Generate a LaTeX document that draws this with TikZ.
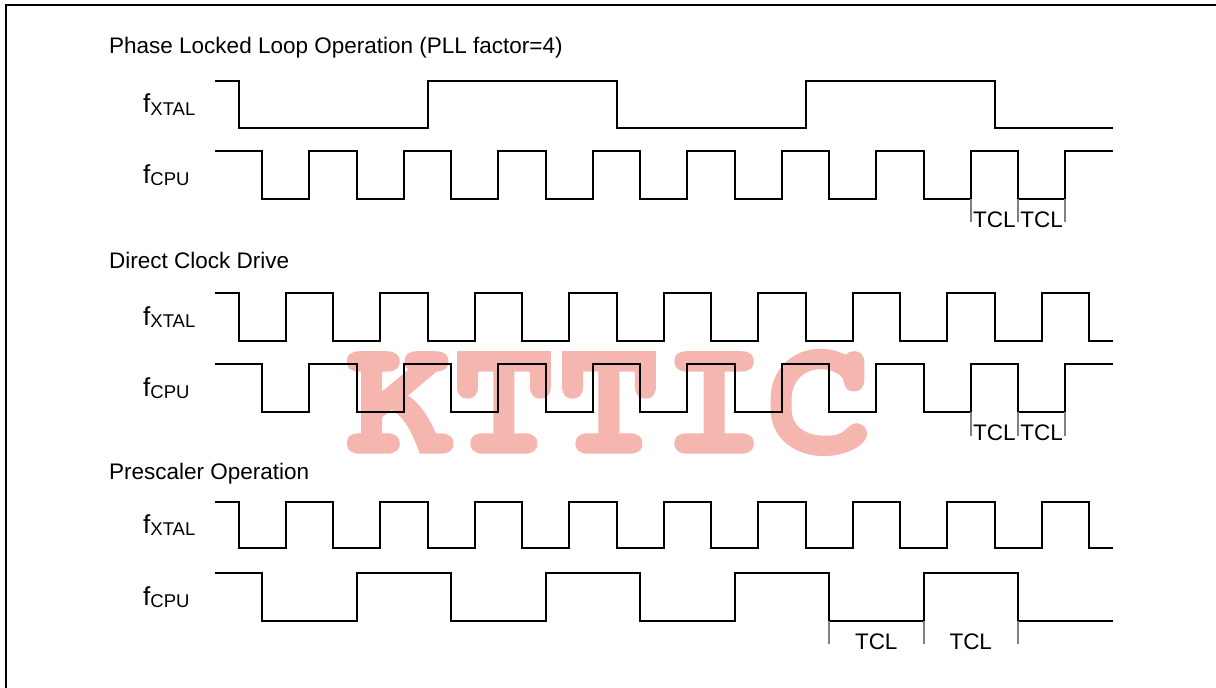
\documentclass[tikz,border=0pt]{standalone}
\usepackage{fontspec}
\setmainfont{Liberation Sans}
\newfontfamily\wmfont{texgyrecursor-bold}[Extension=.otf,FakeBold=2]
\definecolor{wmpink}{RGB}{245,182,175}
\definecolor{tickgray}{RGB}{128,128,128}
\newcommand\xtalwave[2]{%
  \draw[wave] (215,#1) -| (238.5,#2) -| (285.75,#1) -| (333,#2) -| (380.25,#1)
    -| (427.5,#2) -| (474.75,#1) -| (522,#2) -| (569.25,#1) -| (616.5,#2)
    -| (663.75,#1) -| (711,#2) -| (758.25,#1) -| (805.5,#2) -| (852.75,#1)
    -| (900,#2) -| (947.25,#1) -| (994.5,#2) -| (1041.75,#1) -| (1089,#2) -- (1113,#2);}
\newcommand\cpuwave[2]{%
  \draw[wave] (215,#1) -| (262,#2) -| (309.25,#1) -| (356.5,#2) -| (403.75,#1)
    -| (451,#2) -| (498.25,#1) -| (545.5,#2) -| (592.75,#1) -| (640,#2)
    -| (687.25,#1) -| (734.5,#2) -| (781.75,#1) -| (829,#2) -| (876.25,#1)
    -| (923.5,#2) -| (970.75,#1) -| (1018,#2) -| (1065.25,#1) -- (1113,#1);}
\newcommand\sig[1]{f\raisebox{-2.5pt}{\fontsize{18.5}{20}\selectfont #1}}
\begin{document}
\begin{tikzpicture}[x=1pt,y=-1pt,
  wave/.style={line width=2pt,line join=miter,black},
  tickline/.style={line width=2pt,tickgray},
  title/.style={anchor=base west,inner sep=0pt,font=\fontsize{22.5}{27}\selectfont},
  lbl/.style={anchor=base west,inner sep=0pt,font=\fontsize{26}{30}\selectfont},
  tcl/.style={anchor=base,inner sep=0pt,font=\fontsize{22.5}{27}\selectfont}]
\useasboundingbox (0,0) rectangle (1216,688);
% watermark (behind the waveforms)
\node[anchor=base,inner sep=0pt,text=wmpink,
  font=\wmfont\fontsize{170}{175}\selectfont] (wm) at (609,452) {\scalebox{1.03}[1]{KTTIC}};
% frame
\draw[line width=2pt] (5.8,688) -- (5.8,5) -- (1216,5);
% section 1
\node[title] (t1) at (109,53) {Phase Locked Loop Operation (PLL factor=4)};
\node[lbl] (x1) at (143,112.5) {\sig{XTAL}};
\node[lbl] (c1) at (143,183) {\sig{CPU}};
\draw[wave] (215,81) -| (238.5,128) -| (427.5,81) -| (616.5,128) -| (805.5,81) -| (994.5,128) -- (1113,128);
\cpuwave{151}{199}
\foreach \x in {970.75,1018,1065.25} \draw[tickline] (\x,199) -- (\x,222);
\node[tcl] (tcl1a) at (994.4,227) {TCL};
\node[tcl] (tcl1b) at (1041.6,227) {TCL};
% section 2
\node[title] (t2) at (109,268) {Direct Clock Drive};
\node[lbl] (x2) at (143,325) {\sig{XTAL}};
\node[lbl] (c2) at (143,396) {\sig{CPU}};
\xtalwave{293}{341}
\cpuwave{364}{412}
\foreach \x in {970.75,1018,1065.25} \draw[tickline] (\x,412) -- (\x,436);
\node[tcl] (tcl2a) at (994.4,440) {TCL};
\node[tcl] (tcl2b) at (1041.6,440) {TCL};
% section 3
\node[title] (t3) at (109,479) {Prescaler Operation};
\node[lbl] (x3) at (143,533) {\sig{XTAL}};
\node[lbl] (c3) at (143,605) {\sig{CPU}};
\xtalwave{502}{548}
\draw[wave] (215,573) -| (262,621) -| (356.5,573) -| (451,621) -| (545.5,573) -| (640,621)
  -| (734.5,573) -| (829,621) -| (923.5,573) -| (1018,621) -- (1113,621);
\foreach \x in {829,923.5,1018} \draw[tickline] (\x,621) -- (\x,644);
\node[tcl] (tcl3a) at (876.25,649) {TCL};
\node[tcl] (tcl3b) at (970.75,649) {TCL};
\end{tikzpicture}
\end{document}
